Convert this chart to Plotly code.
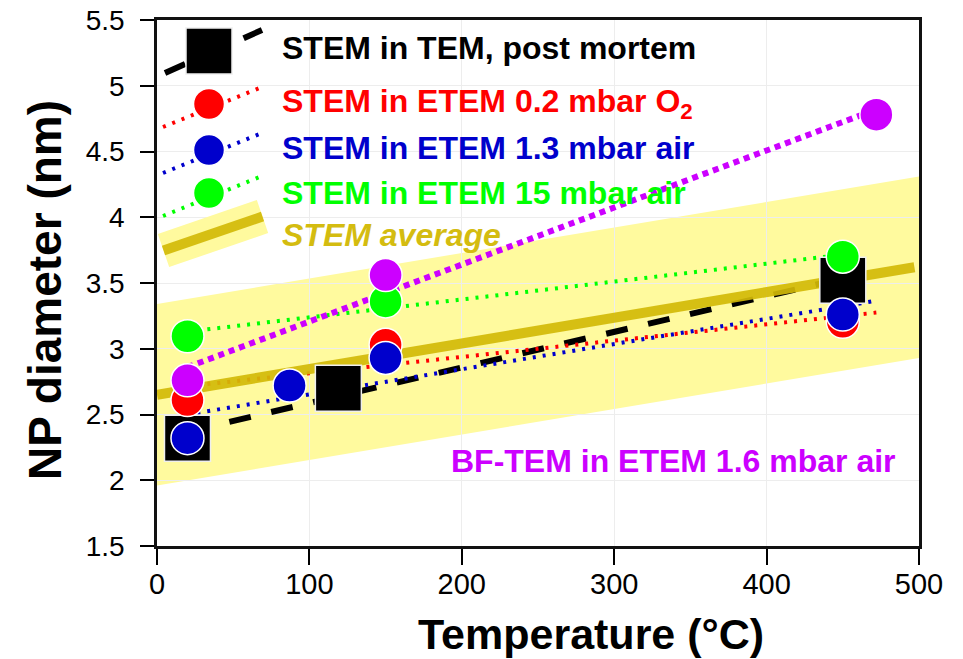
import plotly.graph_objects as go

# ---------------- data ----------------
temp_post = [20, 119, 450]
diam_post = [2.32, 2.70, 3.52]

temp_o2 = [20, 150, 450]
diam_o2 = [2.61, 3.03, 3.205]

temp_air13 = [20, 87, 150, 450]
diam_air13 = [2.32, 2.72, 2.93, 3.26]

temp_air15 = [20, 150, 450]
diam_air15 = [3.095, 3.36, 3.70]

temp_bf = [20, 150, 472]
diam_bf = [2.76, 3.56, 4.78]

# trend lines (end points)
trend_x_post = [20, 450]
trend_y_post = [2.37, 3.535]
trend_x_o2 = [20, 472]
trend_y_o2 = [2.715, 3.275]
trend_x_air13 = [20, 472]
trend_y_air13 = [2.50, 3.365]
trend_x_air15 = [20, 450]
trend_y_air15 = [3.13, 3.715]
trend_x_bf = [20, 472]
trend_y_bf = [2.86, 4.82]

# STEM average line and its band
avg_x = [0, 497]
avg_y = [2.65, 3.62]
band_x = [0, 500]
band_low = [1.96, 2.93]
band_high = [3.34, 4.31]

x_ticks = [0, 100, 200, 300, 400, 500]
y_ticks = [1.5, 2, 2.5, 3, 3.5, 4, 4.5, 5, 5.5]

legend_labels = [
    "STEM in TEM, post mortem",
    "STEM in ETEM 0.2 mbar O<sub>2</sub>",
    "STEM in ETEM 1.3 mbar air",
    "STEM in ETEM 15 mbar air",
    "STEM average",
]
bf_label = "BF-TEM in ETEM 1.6 mbar air"

# ---------------- styles ----------------
FONT = "Liberation Sans, Arial, sans-serif"
BLACK = "#000000"
RED = "#FF0000"
BLUE = "#0000CC"
GREEN = "#00FF00"
PURPLE = "#CC00FF"
GOLD = "rgba(210,186,8,0.92)"
GOLD_TXT = "#D4BC10"
YELLOW = "#FFFA9E"

fig = go.Figure()

# band as a shape below the grid
band_path = (f"M {band_x[0]},{band_low[0]} L {band_x[1]},{band_low[1]} "
             f"L {band_x[1]},{band_high[1]} L {band_x[0]},{band_high[0]} Z")
fig.add_shape(type="path", path=band_path, xref="x", yref="y",
              fillcolor=YELLOW, line=dict(width=0), layer="below")

dot = "3px,7px"
# trend lines
fig.add_trace(go.Scatter(x=trend_x_post, y=trend_y_post, mode="lines",
                         line=dict(color=BLACK, width=6, dash="22px,21px"), showlegend=False))
fig.add_trace(go.Scatter(x=trend_x_o2, y=trend_y_o2, mode="lines",
                         line=dict(color=RED, width=4, dash=dot), showlegend=False))
fig.add_trace(go.Scatter(x=trend_x_air13, y=trend_y_air13, mode="lines",
                         line=dict(color=BLUE, width=4, dash=dot), showlegend=False))
fig.add_trace(go.Scatter(x=trend_x_air15, y=trend_y_air15, mode="lines",
                         line=dict(color=GREEN, width=4, dash=dot), showlegend=False))
fig.add_trace(go.Scatter(x=trend_x_bf, y=trend_y_bf, mode="lines",
                         line=dict(color=PURPLE, width=6, dash="6px,5px"), showlegend=False))
# average line
fig.add_trace(go.Scatter(x=avg_x, y=avg_y, mode="lines",
                         line=dict(color=GOLD, width=10), showlegend=False))

# markers
def circ(color, size=33):
    return dict(symbol="circle", size=size, color=color, line=dict(color="white", width=1.5))

fig.add_trace(go.Scatter(x=temp_post, y=diam_post, mode="markers",
                         marker=dict(symbol="square", size=46, color=BLACK,
                                     line=dict(color="#EEEEEE", width=1.5)), showlegend=False))
fig.add_trace(go.Scatter(x=temp_o2, y=diam_o2, mode="markers", marker=circ(RED), showlegend=False))
fig.add_trace(go.Scatter(x=temp_air13, y=diam_air13, mode="markers", marker=circ(BLUE), showlegend=False))
fig.add_trace(go.Scatter(x=temp_air15, y=diam_air15, mode="markers", marker=circ(GREEN), showlegend=False))
fig.add_trace(go.Scatter(x=temp_bf, y=diam_bf, mode="markers", marker=circ(PURPLE), showlegend=False))

# ---------------- custom legend (overlay axes in pixel units) ----------------
L = dict(xaxis="x2", yaxis="y2", showlegend=False, hoverinfo="skip")
# black
fig.add_trace(go.Scatter(x=[165, 262], y=[73, 30], mode="lines",
                         line=dict(color=BLACK, width=6, dash="22px,21px"), **L))
fig.add_trace(go.Scatter(x=[209], y=[51], mode="markers",
                         marker=dict(symbol="square", size=46, color=BLACK,
                                     line=dict(color="#EEEEEE", width=1.5)), **L))
# circles
for col, yc in [(RED, 104), (BLUE, 150), (GREEN, 193)]:
    fig.add_trace(go.Scatter(x=[163, 262], y=[yc + 23, yc - 17], mode="lines",
                             line=dict(color=col, width=4, dash=dot), **L))
    fig.add_trace(go.Scatter(x=[209], y=[yc], mode="markers", marker=circ(col, 31), **L))
# average glyph
fig.add_trace(go.Scatter(x=[163.5, 262.5], y=[250.5, 216.5], mode="lines",
                         line=dict(color=YELLOW, width=35), **L))
fig.add_trace(go.Scatter(x=[163.5, 262.5], y=[250.5, 216.5], mode="lines",
                         line=dict(color=GOLD, width=10), **L))

legend_rows = [48, 103, 148, 193, 235]
legend_colors = [BLACK, RED, BLUE, GREEN, GOLD_TXT]
annotations = []
for i, (lab, yc, col) in enumerate(zip(legend_labels, legend_rows, legend_colors)):
    txt = f"<b><i>{lab}</i></b>" if i == 4 else f"<b>{lab}</b>"
    annotations.append(dict(x=280, y=yc, xref="x2", yref="y2", text=txt, showarrow=False,
                            xanchor="left", yanchor="middle",
                            font=dict(family=FONT, size=32, color=col)))

annotations.append(dict(x=486, y=2.15, xref="x", yref="y", text=f"<b>{bf_label}</b>",
                        showarrow=False, xanchor="right", yanchor="middle",
                        font=dict(family=FONT, size=32, color=PURPLE)))
# axis titles
annotations.append(dict(x=(591 - 157) / 762, y=(546 - 633.5) / 526, xref="paper", yref="paper",
                        text="<b>Temperature (°C)</b>", showarrow=False,
                        xanchor="center", yanchor="middle",
                        font=dict(family=FONT, size=43, color=BLACK)))
annotations.append(dict(x=(45 - 157) / 762, y=(546 - 290) / 526, xref="paper", yref="paper",
                        text="<b>NP diameter (nm)</b>", showarrow=False, textangle=-90,
                        xanchor="center", yanchor="middle",
                        font=dict(family=FONT, size=46, color=BLACK)))

fig.update_layout(
    width=963, height=659,
    margin=dict(l=157, r=44, t=20, b=113, autoexpand=False),
    paper_bgcolor="white", plot_bgcolor="white",
    showlegend=False,
    annotations=annotations,
    xaxis=dict(range=[0, 500], tickvals=x_ticks, ticktext=[str(v) for v in x_ticks],
               ticks="outside", ticklen=16, tickwidth=2, tickcolor=BLACK, automargin=False,
               showline=True, linewidth=2.5, linecolor="#111111", mirror=True,
               showgrid=True, gridcolor="#EDEDED", gridwidth=1, zeroline=False,
               ticklabelstandoff=-6,
               tickfont=dict(family=FONT, size=29, color=BLACK)),
    yaxis=dict(range=[1.5, 5.5], tickvals=y_ticks, ticktext=[f"{v:g}" for v in y_ticks],
               ticks="outside", ticklen=14, tickwidth=2, tickcolor=BLACK, automargin=False,
               showline=True, linewidth=2.5, linecolor="#111111", mirror=True,
               showgrid=True, gridcolor="#EDEDED", gridwidth=1, zeroline=False,
               ticklabelstandoff=10,
               tickfont=dict(family=FONT, size=28, color=BLACK)),
    xaxis2=dict(range=[157, 919], overlaying="x", anchor="y2", visible=False, fixedrange=True,
                automargin=False),
    yaxis2=dict(range=[546, 20], overlaying="y", anchor="x2", visible=False, fixedrange=True,
                automargin=False),
)

fig.write_html("out.html", config={"displayModeBar": False},
               post_script="document.body.style.margin='0';document.body.style.padding='0';")
